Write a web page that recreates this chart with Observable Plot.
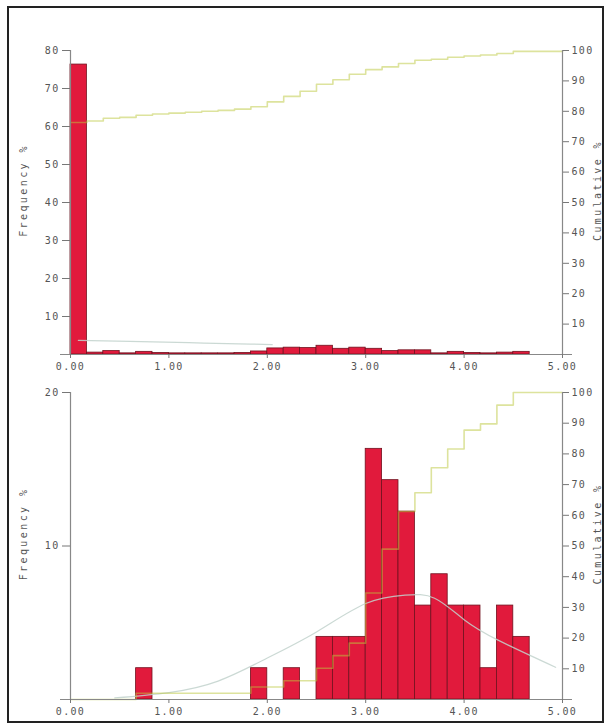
<!DOCTYPE html>
<html><head><meta charset="utf-8">
<script src="https://cdn.jsdelivr.net/npm/d3@7"></script>
<script src="https://cdn.jsdelivr.net/npm/@observablehq/plot@0.6"></script>
<style>
body{margin:0;background:#fff;}
#wrap{position:relative;width:610px;height:724px;overflow:hidden;background:#fff;}
#frame{position:absolute;left:7px;top:6px;width:593px;height:713px;border:2px solid #222;pointer-events:none;}
.panel{position:absolute;left:0;}
#wrap svg text{letter-spacing:1.3px;}
</style></head><body>
<div id="wrap"><div id="top" class="panel" style="top:0"></div><div id="bottom" class="panel" style="top:374px"></div><div id="frame"></div></div>
<script>
// bins of width 1/6 from 0 to 4.67
const binWidth = 1 / 6;
const binStarts = d3.range(28).map(i => i * binWidth);

// Top panel: frequency % per bin
const topFreq = [76.3, 0.5, 0.9, 0.3, 0.7, 0.4, 0.3, 0.3, 0.3, 0.3, 0.4, 0.8, 1.6, 1.8,
                 1.7, 2.3, 1.5, 1.8, 1.5, 0.9, 1.1, 1.1, 0.3, 0.7, 0.4, 0.3, 0.5, 0.7];
// Bottom panel: frequency % per bin (49 cases)
const bottomFreq = [0, 0, 0, 0, 2.04, 0, 0, 0, 0, 0, 0, 2.04, 0, 2.04,
                    0, 4.08, 4.08, 4.08, 16.33, 14.29, 12.24, 6.12, 8.16, 6.12, 6.12, 2.04, 6.12, 4.08];

// fitted normal curves
const topCurveX = [0.08, 0.6, 1.2, 1.83, 2.05];
const topCurveY = [3.7, 3.45, 3.1, 2.75, 2.6];
const bottomCurveX = [0.45, 1.0, 1.5, 2.0, 2.5, 3.0, 3.4, 3.7, 4.0, 4.35, 4.93];
const bottomCurveY = [0.1, 0.45, 1.2, 2.7, 4.4, 6.25, 6.8, 6.6, 5.2, 3.85, 2.1];

const xTicks = [0, 1, 2, 3, 4, 5];
const topFreqTicks = [10, 20, 30, 40, 50, 60, 70, 80];
const bottomFreqTicks = [10, 20];
const cumTicks = [10, 20, 30, 40, 50, 60, 70, 80, 90, 100];

function makePanel({freq, curveX, curveY, yMax, freqTicks, height, marginTop, marginBottom}) {
  const k = yMax / 100;
  const cum = Array.from(d3.cumsum(freq));
  const bars = binStarts.map((x, i) => ({x1: x, x2: x + binWidth, f: freq[i]})).filter(d => d.f > 0);
  const step = binStarts.map((x, i) => ({x, y: cum[i] * k}));
  step.push({x: 5, y: cum[cum.length - 1] * k});
  const curve = curveX.map((x, i) => ({x, y: curveY[i]}));
  const labelStyle = {fill: "#555", fontSize: 10, textAnchor: "middle"};
  const svg = Plot.plot({
    width: 610, height, marginTop, marginBottom, marginLeft: 70, marginRight: 48,
    x: {domain: [0, 5]},
    y: {domain: [0, yMax]},
    style: {fontFamily: "DejaVu Sans Mono, monospace", fontSize: "10px", color: "#777", background: "transparent"},
    marks: [
      Plot.rectY(bars, {x1: "x1", x2: "x2", y: "f", fill: "#e11a3c", stroke: "#70121f", strokeWidth: 0.8}),
      Plot.line(curve, {x: "x", y: "y", curve: "natural", stroke: "#c2d2cc", strokeWidth: 1.2, strokeOpacity: 0.85}),
      Plot.line(step, {x: "x", y: "y", curve: "step-after", stroke: "#bcc83c", strokeOpacity: 0.5, strokeWidth: 1.6}),
      Plot.ruleX([0], {stroke: "#888", strokeWidth: 1.2}),
      Plot.ruleX([5], {stroke: "#888", strokeWidth: 1.2}),
      Plot.ruleY([0], {stroke: "#888", strokeWidth: 1.2, insetLeft: -10, insetRight: -10}),
      Plot.axisX({ticks: xTicks, tickFormat: d3.format(".2f"), tickSize: 4, tickPadding: 4, label: null, fill: "#555"}),
      Plot.axisY({anchor: "left", ticks: freqTicks, tickSize: 8, tickPadding: 3, label: null, fill: "#555"}),
      Plot.axisY({anchor: "right", ticks: cumTicks.map(v => v * k), tickFormat: v => String(Math.round(v / k)),
                  tickSize: 6, tickPadding: 3, label: null, fill: "#555"}),
      Plot.text(["Frequency %"], {frameAnchor: "left", dx: -47, dy: -12, rotate: -90, ...labelStyle}),
      Plot.text(["Cumulative %"], {frameAnchor: "right", dx: 35, dy: -12, rotate: -90, ...labelStyle})
    ]
  });
  d3.select(svg).selectAll("text").filter(function() { return this.textContent.includes("%"); })
    .style("letter-spacing", "2.4px");
  return svg;
}

document.getElementById("top").append(makePanel({
  freq: topFreq, curveX: topCurveX, curveY: topCurveY, yMax: 80, freqTicks: topFreqTicks,
  height: 374, marginTop: 50, marginBottom: 20
}));
document.getElementById("bottom").append(makePanel({
  freq: bottomFreq, curveX: bottomCurveX, curveY: bottomCurveY, yMax: 20, freqTicks: bottomFreqTicks,
  height: 350, marginTop: 18, marginBottom: 25
}));
</script>
</body></html>
